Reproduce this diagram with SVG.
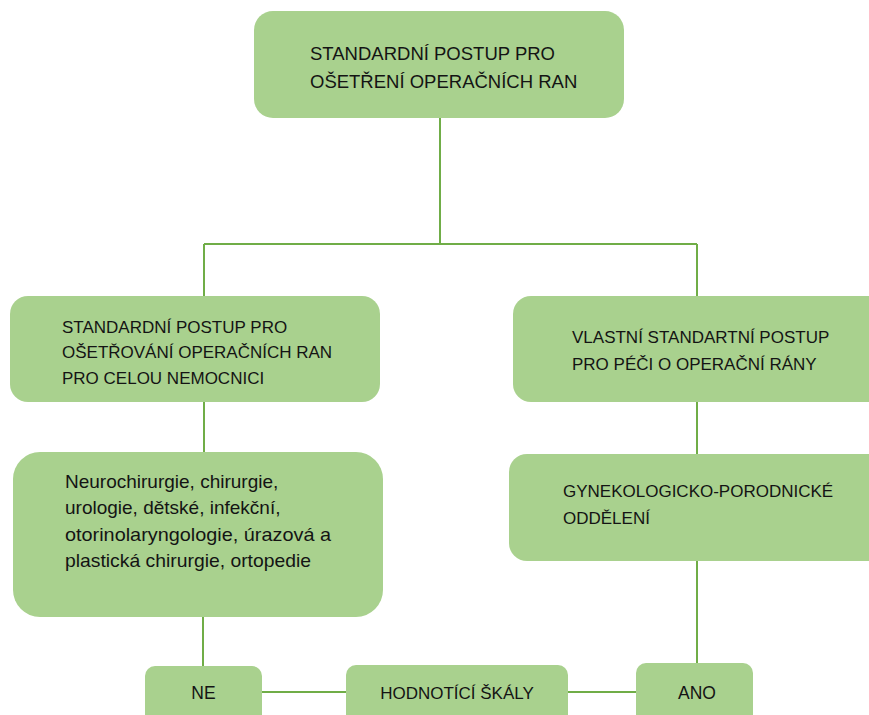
<svg xmlns="http://www.w3.org/2000/svg" width="869" height="715" viewBox="0 0 869 715">
  <style>
    .box { fill: #A9D18E; }
    .lbl { font-family: "Liberation Sans", Arial, sans-serif; fill: #141414; }
    .conn { fill: none; stroke: #70AD47; stroke-width: 2; }
  </style>
  <rect width="869" height="715" fill="#ffffff"/>

  <g id="connectors">
    <path class="conn" d="M440,118 V244"/>
    <path class="conn" d="M204,244 H697"/>
    <path class="conn" d="M204,244 V296"/>
    <path class="conn" d="M697,244 V296"/>
    <path class="conn" d="M204,402 V452"/>
    <path class="conn" d="M697,402 V455"/>
    <path class="conn" d="M203,617 V666"/>
    <path class="conn" d="M697,561 V663"/>
    <path class="conn" d="M262,692 H346"/>
    <path class="conn" d="M568,692 H636"/>
  </g>

  <g id="root">
    <rect class="box" x="254" y="11" width="370" height="107" rx="19"/>
    <text class="lbl" font-size="18.5"><tspan x="310" y="60">STANDARDNÍ POSTUP PRO</tspan><tspan x="310" y="88">OŠETŘENÍ OPERAČNÍCH RAN</tspan></text>
  </g>

  <g id="hospital">
    <rect class="box" x="10" y="296" width="370" height="106" rx="18"/>
    <text class="lbl" font-size="17"><tspan x="62" y="333">STANDARDNÍ POSTUP PRO</tspan><tspan x="62" y="358">OŠETŘOVÁNÍ OPERAČNÍCH RAN</tspan><tspan x="62" y="384">PRO CELOU NEMOCNICI</tspan></text>
  </g>

  <g id="own">
    <rect class="box" x="513" y="296" width="400" height="106" rx="18"/>
    <text class="lbl" font-size="17"><tspan x="572" y="343">VLASTNÍ STANDARTNÍ POSTUP</tspan><tspan x="572" y="370">PRO PÉČI O OPERAČNÍ RÁNY</tspan></text>
  </g>

  <g id="departments">
    <rect class="box" x="13" y="452" width="370" height="165" rx="27"/>
    <text class="lbl" font-size="19" x="65" y="488">Neurochirurgie, chirurgie,</text>
    <text class="lbl" font-size="19" x="65" y="514">urologie, dětské, infekční,</text>
    <text class="lbl" font-size="19" x="65" y="541" textLength="266" lengthAdjust="spacingAndGlyphs">otorinolaryngologie, úrazová a</text>
    <text class="lbl" font-size="19" x="65" y="567" textLength="246" lengthAdjust="spacingAndGlyphs">plastická chirurgie, ortopedie</text>
  </g>

  <g id="gynecology">
    <rect class="box" x="509" y="454" width="400" height="107" rx="18"/>
    <text class="lbl" font-size="17"><tspan x="563" y="497">GYNEKOLOGICKO-PORODNICKÉ</tspan><tspan x="563" y="524">ODDĚLENÍ</tspan></text>
  </g>

  <g id="no">
    <rect class="box" x="145" y="666" width="117" height="62" rx="10"/>
    <text class="lbl" font-size="17.5" text-anchor="middle" x="203.5" y="699">NE</text>
  </g>

  <g id="scales">
    <rect class="box" x="346" y="665" width="222" height="62" rx="10"/>
    <text class="lbl" font-size="17" text-anchor="middle" x="457" y="699">HODNOTÍCÍ ŠKÁLY</text>
  </g>

  <g id="yes">
    <rect class="box" x="636" y="663" width="117" height="62" rx="10"/>
    <text class="lbl" font-size="17.5" text-anchor="middle" x="697" y="699">ANO</text>
  </g>
</svg>
